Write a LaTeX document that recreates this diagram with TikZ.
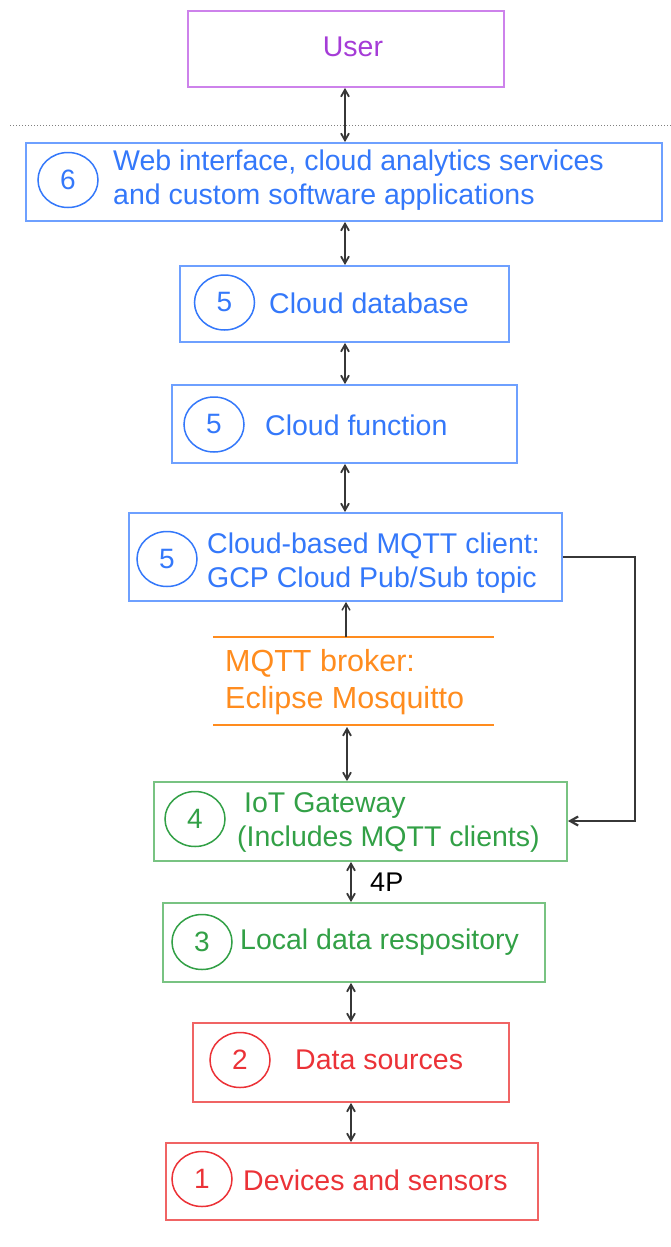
\documentclass[tikz,border=0pt]{standalone}
\usepackage{fontspec}
\setmainfont{Liberation Sans}
\usetikzlibrary{arrows.meta,shapes.geometric}
\definecolor{cblue}{RGB}{52,120,250}
\definecolor{cbluebox}{RGB}{110,160,255}
\definecolor{cgreen}{RGB}{50,160,70}
\definecolor{cgreenbox}{RGB}{120,195,130}
\definecolor{cred}{RGB}{235,50,55}
\definecolor{credbox}{RGB}{240,100,100}
\definecolor{corange}{RGB}{255,140,30}
\definecolor{cpurple}{RGB}{165,60,215}
\definecolor{cpurplebox}{RGB}{205,130,235}
\definecolor{carrow}{RGB}{55,55,55}
\tikzset{
  layerbox/.style={draw=#1, line width=1.8pt, inner sep=0pt},
  numring/.style={draw=#1, text=#1, ellipse, line width=1.5pt, minimum width=60pt, minimum height=55pt, inner sep=0pt, font=\fontsize{28}{32}\selectfont},
  label/.style={text=#1, anchor=west, align=left, inner sep=0pt, font=\fontsize{28.5}{34}\selectfont},
  link/.style={draw=carrow, line width=1.8pt, {Straight Barb[length=7pt,width=8pt]}-{Straight Barb[length=7pt,width=8pt]}},
  uplink/.style={draw=carrow, line width=1.4pt, -{Straight Barb[length=7pt,width=8pt]}},
}
\begin{document}
\begin{tikzpicture}[x=1pt,y=-1pt]
\useasboundingbox (0,0) rectangle (671,1247);

% user
\node[layerbox=cpurplebox, minimum width=316pt, minimum height=76pt] (user) at (346,49) {};
\node[text=cpurple, font=\fontsize{28.5}{32}\selectfont] (usertxt) at (353,47) {User};

% boundary between user and system
\draw[gray, line width=1pt, dotted] (10,125) -- (671,125);

% layer 6
\node[layerbox=cbluebox, minimum width=636pt, minimum height=78pt] (web) at (344,182) {};
\node[numring=cblue] (n6) at (68,180) {6};
\node[label=cblue] (webtxt) at (113,180) {Web interface, cloud analytics services\\and custom software applications};

% layer 5: database
\node[layerbox=cbluebox, minimum width=329pt, minimum height=76pt] (db) at (344.5,304) {};
\node[numring=cblue] (n5a) at (224.5,302.5) {5};
\node[label=cblue] (dbtxt) at (269,303) {Cloud database};

% layer 5: function
\node[layerbox=cbluebox, minimum width=345pt, minimum height=78pt] (fn) at (344.5,424) {};
\node[numring=cblue] (n5b) at (214,424.5) {5};
\node[label=cblue] (fntxt) at (265,425) {Cloud function};

% layer 5: pub/sub client
\node[layerbox=cbluebox, minimum width=433pt, minimum height=88pt] (client) at (345.5,557) {};
\node[numring=cblue] (n5c) at (167,559) {5};
\node[label=cblue] (clienttxt) at (207,563) {Cloud-based MQTT client:\\GCP Cloud Pub/Sub topic};

% broker
\coordinate (brokertl) at (213,637);
\coordinate (brokertr) at (494,637);
\coordinate (brokerbl) at (213,725);
\coordinate (brokerbr) at (494,725);
\draw[corange, line width=1.8pt] (brokertl) -- (brokertr);
\draw[corange, line width=1.8pt] (brokerbl) -- (brokerbr);
\node[label=corange, font=\fontsize{30.5}{37}\selectfont] (broker) at (225,682) {MQTT broker:\\Eclipse Mosquitto};
\coordinate (brokertop) at (346,637);
\coordinate (brokerbot) at (347,727);

% layer 4
\node[layerbox=cgreenbox, minimum width=413pt, minimum height=79pt] (gw) at (360.5,821.5) {};
\node[numring=cgreen] (n4) at (195,819) {4};
\node[label=cgreen] (gwtxt) at (237,822) {\hspace*{7pt}IoT Gateway\\(Includes MQTT clients)};

% layer 3
\node[layerbox=cgreenbox, minimum width=382pt, minimum height=79pt] (local) at (354,942.5) {};
\node[numring=cgreen] (n3) at (202,942) {3};
\node[label=cgreen] (localtxt) at (240,942) {Local data respository};

% layer 2
\node[layerbox=credbox, minimum width=316pt, minimum height=79pt] (src) at (351,1062.5) {};
\node[numring=cred] (n2) at (240,1060) {2};
\node[label=cred] (srctxt) at (295,1060) {Data sources};

% layer 1
\node[layerbox=credbox, minimum width=372pt, minimum height=77pt] (dev) at (352,1181.5) {};
\node[numring=cred] (n1) at (202,1179) {1};
\node[label=cred] (devtxt) at (243,1180) {Devices and sensors};

% connectors
\draw[link] (user.south -| 345,0) -- (web.north -| 345,0);
\draw[link] (web.south -| 345,0) -- (db.north -| 345,0);
\draw[link] (db.south -| 345,0) -- (fn.north -| 345,0);
\draw[link] (fn.south -| 345,0) -- (client.north -| 345,0);
\draw[uplink] (brokertop) -- (client.south -| brokertop);
\draw[link] (brokerbot) -- (gw.north -| brokerbot);
\draw[link] (gw.south -| 351,0) -- node[right=15pt, text=black, font=\fontsize{27}{30}\selectfont] (lbl4p) {4P} (local.north -| 351,0);
\draw[link] (local.south -| 351,0) -- (src.north -| 351,0);
\draw[link] (src.south -| 351,0) -- (dev.north -| 351,0);
\draw[draw=carrow, line width=2.2pt, -{Straight Barb[length=8pt,width=9pt]}] (client.east |- 0,557) -- (635,557) -- (635,821) -- (gw.east |- 0,821);
\end{tikzpicture}
\end{document}
